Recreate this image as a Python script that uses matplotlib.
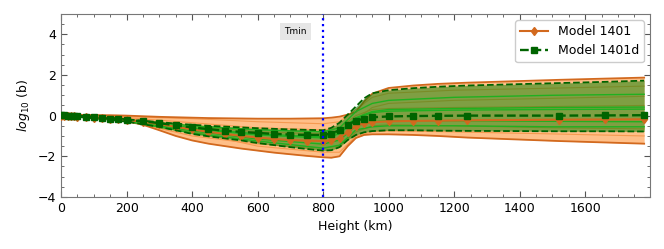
import matplotlib
matplotlib.use("Agg")
import matplotlib.pyplot as plt
from matplotlib.ticker import MultipleLocator

# heights of the model grid (km)
heights = [0, 10, 20, 30, 40, 50, 75, 100, 125, 150, 175, 200, 250, 300, 350,
           400, 450, 500, 550, 600, 650, 700, 750, 800, 825, 850, 875, 900,
           925, 950, 1000, 1075, 1150, 1240, 1520, 1660, 1780]

# Model 1401: envelope and median of log10(b)
m1401_hi = [0.08, 0.07, 0.06, 0.05, 0.05, 0.04, 0.03, 0.03, 0.02, 0.02, 0.01,
            0.0, -0.03, -0.06, -0.08, -0.1, -0.12, -0.13, -0.14, -0.15, -0.15,
            -0.15, -0.14, -0.13, -0.1, -0.05, 0.05, 0.18, 0.7, 1.08, 1.36,
            1.48, 1.56, 1.62, 1.76, 1.82, 1.87]
m1401_lo = [0.0, 0.0, -0.01, -0.02, -0.03, -0.04, -0.07, -0.1, -0.13, -0.17,
            -0.22, -0.28, -0.45, -0.72, -1.0, -1.22, -1.38, -1.5, -1.62, -1.72,
            -1.82, -1.9, -1.98, -2.05, -2.07, -2.0, -1.5, -1.1, -0.95, -0.92,
            -0.92, -0.95, -1.0, -1.08, -1.25, -1.32, -1.38]
m1401_med = [0.0, -0.01, -0.02, -0.03, -0.04, -0.05, -0.07, -0.1, -0.13, -0.16,
             -0.19, -0.22, -0.3, -0.42, -0.55, -0.68, -0.8, -0.9, -1.0, -1.08,
             -1.15, -1.2, -1.23, -1.25, -1.22, -1.1, -0.8, -0.5, -0.38, -0.32,
             -0.28, -0.26, -0.25, -0.23, -0.2, -0.19, -0.18]

# Model 1401d: envelope and median of log10(b)
m1401d_hi = [0.05, 0.04, 0.03, 0.02, 0.01, 0.0, -0.02, -0.04, -0.07, -0.1,
             -0.14, -0.18, -0.25, -0.32, -0.39, -0.45, -0.5, -0.54, -0.58,
             -0.62, -0.65, -0.68, -0.7, -0.72, -0.6, -0.35, 0.05, 0.45, 0.85,
             1.1, 1.25, 1.35, 1.42, 1.48, 1.6, 1.66, 1.72]
m1401d_lo = [0.0, -0.01, -0.02, -0.04, -0.05, -0.06, -0.09, -0.13, -0.17,
             -0.21, -0.25, -0.3, -0.42, -0.56, -0.72, -0.9, -1.02, -1.12, -1.22,
             -1.35, -1.45, -1.55, -1.64, -1.72, -1.7, -1.55, -1.2, -0.95, -0.82,
             -0.76, -0.72, -0.72, -0.74, -0.75, -0.77, -0.77, -0.78]
m1401d_med = [0.02, 0.01, 0.0, -0.01, -0.02, -0.03, -0.06, -0.09, -0.12, -0.15,
              -0.18, -0.21, -0.28, -0.37, -0.48, -0.58, -0.66, -0.74, -0.8,
              -0.85, -0.9, -0.93, -0.95, -0.95, -0.88, -0.72, -0.45, -0.25,
              -0.15, -0.08, -0.04, -0.02, -0.01, 0.0, 0.0, 0.01, 0.02]

# individual runs (coarser sampling)
run_heights = [0, 200, 400, 600, 800, 850, 900, 950, 1000, 1200, 1500, 1780]
runs_1401 = [
    [0, -0.05, -0.15, -0.3, -0.4, -0.3, 0.3, 0.9, 1.1, 1.25, 1.35, 1.45],
    [0, -0.15, -0.5, -0.8, -0.9, -0.8, -0.2, 0.4, 0.6, 0.75, 0.85, 0.95],
    [0, -0.1, -0.35, -0.6, -0.7, -0.6, 0.0, 0.3, 0.35, 0.4, 0.45, 0.5],
    [0, -0.25, -1.0, -1.4, -1.6, -1.5, -0.8, -0.5, -0.45, -0.5, -0.6, -0.65],
    [0, -0.2, -0.8, -1.5, -1.8, -1.8, -1.0, -0.8, -0.75, -0.8, -0.9, -1.0],
]
runs_1401d = [
    [0, -0.2, -0.5, -0.7, -0.8, -0.6, 0.2, 0.6, 0.75, 0.9, 1.0, 1.05],
    [0, -0.22, -0.6, -0.9, -1.05, -0.8, -0.1, 0.2, 0.3, 0.35, 0.4, 0.42],
    [0, -0.24, -0.65, -0.95, -1.1, -0.9, -0.15, 0.15, 0.22, 0.27, 0.3, 0.32],
    [0, -0.26, -0.75, -1.15, -1.4, -1.2, -0.5, -0.3, -0.25, -0.25, -0.28, -0.3],
    [0, -0.28, -0.85, -1.25, -1.6, -1.45, -0.7, -0.55, -0.5, -0.5, -0.55, -0.55],
]

tmin_height = 800

orange = '#d2691e'
dgreen = '#006400'

fig = plt.figure(figsize=(6.64, 2.49), dpi=100)
ax = fig.add_axes([0.092, 0.209, 0.887, 0.735])

# Model 1401 band
ax.fill_between(heights, m1401_lo, m1401_hi, color='#ffbf88', lw=0, zorder=1)
for r in runs_1401:
    ax.plot(run_heights, r, color='#f59a50', lw=0.8, zorder=2)
ax.plot(heights, m1401_hi, color=orange, lw=1.3, zorder=3)
ax.plot(heights, m1401_lo, color=orange, lw=1.3, zorder=3)

# Model 1401d band
ax.fill_between(heights, m1401d_lo, m1401d_hi, color='green', alpha=0.5,
                lw=0, zorder=4)
for r in runs_1401d:
    ax.plot(run_heights, r, color='#20b020', lw=1.0, zorder=5)

ax.plot(heights, m1401_med, color=orange, lw=1.5, marker='d', ms=4.5,
        zorder=6, label='Model 1401')
ax.plot(heights, m1401d_hi, color=dgreen, lw=1.3, ls='--', zorder=7)
ax.plot(heights, m1401d_lo, color=dgreen, lw=1.3, ls='--', zorder=7)
ax.plot(heights, m1401d_med, color=dgreen, lw=1.7, ls='--', marker='s',
        ms=4, zorder=8, label='Model 1401d')

ax.axvline(tmin_height, color='blue', ls=':', lw=1.6, zorder=9)
ax.text(716, 4.15, 'Tmin', fontsize=6.5, ha='center', va='center',
        bbox=dict(facecolor='#e6e6e6', edgecolor='none', pad=3))

ax.set_xlim(0, 1798)
ax.set_ylim(-4, 5)
ax.set_yticks([-4, -2, 0, 2, 4])
ax.xaxis.set_minor_locator(MultipleLocator(50))
ax.yaxis.set_minor_locator(MultipleLocator(0.5))
ax.tick_params(which='both', direction='in', top=True, right=True,
               labelsize=9, color='#555555')
ax.tick_params(which='major', length=4)
ax.tick_params(which='minor', length=2)
for s in ax.spines.values():
    s.set_color('#777777')

ax.set_xlabel('Height (km)', fontsize=9)
ax.set_ylabel('$log_{10}$ (b)', fontsize=9)
ax.legend(loc='upper right', fontsize=9, framealpha=1, edgecolor='#cccccc',
          handlelength=2.2)

fig.savefig('out.png', dpi=100)
